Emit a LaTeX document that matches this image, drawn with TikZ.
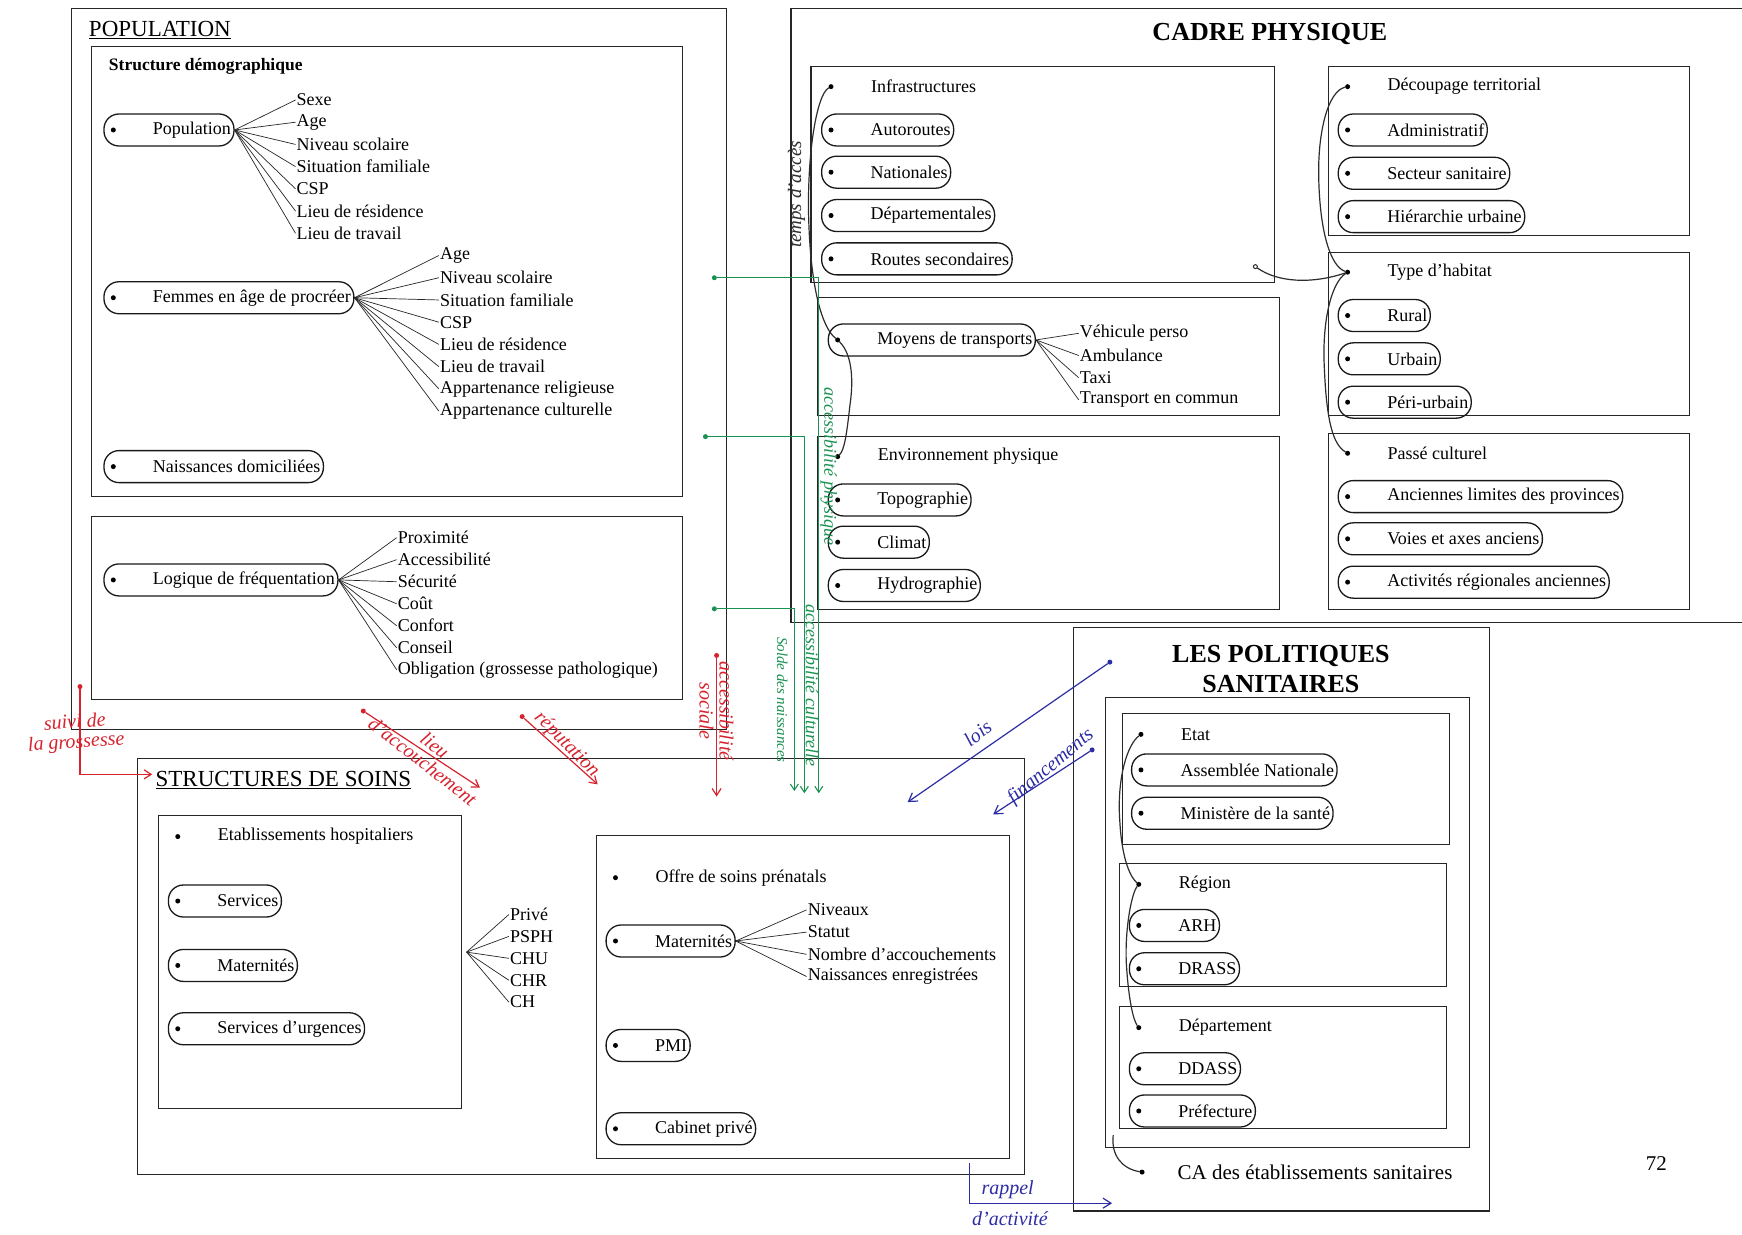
\documentclass[tikz,border=0pt]{standalone}
\usepackage{fontspec}
\setmainfont{Liberation Serif}
\usetikzlibrary{arrows.meta}
\definecolor{hgreen}{RGB}{25,145,80}
\definecolor{hred}{RGB}{215,35,45}
\definecolor{hblue}{RGB}{45,45,165}
\definecolor{hink}{RGB}{45,45,45}
\tikzset{
  box/.style={draw=black!85, line width=1.1pt},
  oval/.style={draw=black!90, line width=1.3pt, rounded corners=15pt, minimum height=32pt,
    inner xsep=3pt, inner ysep=0pt, anchor=west, font=\fontsize{18}{21}\selectfont},
  dotn/.style={circle, fill=black, inner sep=0pt, minimum size=5pt},
  txt/.style={anchor=west, inner sep=1pt, font=\fontsize{18}{21}\selectfont},
  leaf/.style={anchor=west, inner xsep=1pt, inner ysep=0pt, font=\fontsize{18}{21}\selectfont},
  fan/.style={draw=black!85, line width=0.7pt},
  hand/.style={draw=hink, line width=1.2pt, line cap=round},
  ghand/.style={draw=hgreen, line width=1.1pt, -{Straight Barb[length=6pt,width=8pt]}},
  rhand/.style={draw=hred, line width=1.2pt, -{Straight Barb[length=7pt,width=9pt]}},
  bhand/.style={draw=hblue, line width=1.2pt, -{Straight Barb[length=8pt,width=10pt]}},
  gtext/.style={text=hgreen, inner sep=0pt, font=\itshape\fontsize{18}{18}\selectfont},
  rtext/.style={text=hred, inner sep=0pt, font=\itshape\fontsize{20}{20}\selectfont},
  btext/.style={text=hblue, inner sep=0pt, font=\itshape\fontsize{20}{20}\selectfont},
}
\newcommand\ovl[4]{\node[oval] (#1) at ({#2-44},#3) {\hspace{46pt}#4};
  \node[dotn] (#1d) at ({#2-35},#3) {};}
\newcommand\hdr[4]{\node[dotn] (#1d) at ({#2-35},#3) {};
  \node[txt] (#1) at (#2,#3) {#4};}
\begin{document}
\begin{tikzpicture}[x=1.111pt, y=-1.111pt]
\fill[white] (0,0) rectangle (1568,1111);
\useasboundingbox (0,0) rectangle (1568,1111);

% ================= POPULATION =================
\draw[box] (64,8) rectangle (654,657);
\node[anchor=west, inner sep=1pt, font=\fontsize{23}{26}\selectfont] (tpop) at (79,27) {\underline{POPULATION}};
\draw[box] (82,42) rectangle (614,447);
\node[txt, font=\bfseries\fontsize{17.5}{20}\selectfont] (tstruct) at (97,60) {Structure démographique};

\ovl{pop}{137}{117}{Population}
\foreach \t [count=\i] in {Sexe,Age,Niveau scolaire,Situation familiale,CSP,Lieu de résidence,Lieu de travail}
  \node[leaf] (pa\i) at (266,{70+20*\i}) {\t};
\foreach \i in {1,...,7} \draw[fan] (pop.east) -- (pa\i.west);

\ovl{fem}{137}{268}{Femmes en âge de procréer}
\foreach \t [count=\i] in {Age,Niveau scolaire,Situation familiale,CSP,Lieu de résidence,Lieu de travail,Appartenance religieuse,Appartenance culturelle}
  \node[leaf] (fa\i) at (395,{210+20*\i}) {\t};
\foreach \i in {1,...,8} \draw[fan] (fem.east) -- (fa\i.west);

\ovl{nais}{137}{420}{Naissances domiciliées}

\draw[box] (82,465) rectangle (614,630);
\ovl{logi}{137}{522}{Logique de fréquentation}
\foreach \t [count=\i] in {Proximité,Accessibilité,Sécurité,Coût,Confort,Conseil,Obligation (grossesse pathologique)}
  \node[leaf] (la\i) at (357,{464.2+19.8*\i}) {\t};
\foreach \i in {1,...,7} \draw[fan] (logi.east) -- (la\i.west);

% ================= CADRE PHYSIQUE =================
\draw[box] (1568,8) -- (712,8) -- (712,560) -- (1568,560);
\node[font=\bfseries\fontsize{26}{30}\selectfont] (tcad) at (1143,31) {CADRE PHYSIQUE};

\draw[box] (730,60) rectangle (1147,254);
\hdr{infra}{783}{78}{Infrastructures}
\ovl{auto}{783}{117}{Autoroutes}
\ovl{natl}{783}{155}{Nationales}
\ovl{depa}{783}{194}{Départementales}
\ovl{rsec}{783}{233}{Routes secondaires}

\draw[box] (736,268) rectangle (1152,374);
\ovl{moy}{789}{306}{Moyens de transports}
\foreach \t [count=\i] in {Véhicule perso,Ambulance,Taxi,Transport en commun}
  \node[leaf] (ma\i) at (971,{280+20*\i}) {\t};
\foreach \i in {1,...,4} \draw[fan] (moy.east) -- (ma\i.west);

\draw[box] (736,393) rectangle (1152,549);
\hdr{env}{789}{411}{Environnement physique}
\ovl{topo}{789}{450}{Topographie}
\ovl{clim}{789}{488}{Climat}
\ovl{hydro}{789}{527}{Hydrographie}

\draw[box] (1196,60) rectangle (1521,212);
\hdr{decou}{1248}{78}{Découpage territorial}
\ovl{adm}{1248}{117}{Administratif}
\ovl{secs}{1248}{156}{Secteur sanitaire}
\ovl{hier}{1248}{195}{Hiérarchie urbaine}

\draw[box] (1196,227) rectangle (1521,374);
\hdr{hab}{1248}{245}{Type d’habitat}
\ovl{rur}{1248}{284}{Rural}
\ovl{urb}{1248}{323}{Urbain}
\ovl{peri}{1248}{362}{Péri-urbain}

\draw[box] (1196,390) rectangle (1521,549);
\hdr{passe}{1248}{408}{Passé culturel}
\ovl{anc}{1248}{447}{Anciennes limites des provinces}
\ovl{voies}{1248}{485}{Voies et axes anciens}
\ovl{acti}{1248}{524}{Activités régionales anciennes}

% hand-drawn links in cadre physique
\draw[hand] (infrad) .. controls (735,85) and (726,140) .. (728,200) .. controls (730,260) and (740,295) .. (moyd);
\draw[hand] (moyd) .. controls (768,320) and (768,345) .. (765,365) .. controls (762,392) and (760,405) .. (envd);
\draw[hand] (decoud) .. controls (1195,82) and (1186,120) .. (1187,160) .. controls (1188,210) and (1198,240) .. (habd);
\draw[hand] (habd) .. controls (1198,255) and (1190,290) .. (1192,330) .. controls (1194,380) and (1200,400) .. (passed);
\node[circle, draw=hink, line width=1pt, inner sep=0pt, minimum size=4pt] (ic) at (1130,240) {};
\draw[hand] (ic) .. controls (1150,254) and (1180,256) .. (habd);
\node[rotate=90, text=hink, inner sep=0pt, font=\itshape\fontsize{19}{22}\selectfont] (tacc) at (717,175) {temps d’accès};

% ================= STRUCTURES DE SOINS =================
\draw[box] (124,683) rectangle (922,1057);
\node[anchor=west, inner sep=1pt, font=\fontsize{23}{26}\selectfont] (tsoins) at (139,702) {\underline{STRUCTURES DE SOINS}};

\draw[box] (143,734) rectangle (415,998);
\hdr{etab}{195}{753}{Etablissements hospitaliers}
\ovl{serv}{195}{811}{Services}
\ovl{matA}{195}{869}{Maternités}
\ovl{urg}{195}{926}{Services d’urgences}
\coordinate (etabfan) at (420,857);
\foreach \t [count=\i] in {Privé,PSPH,CHU,CHR,CH}
  \node[leaf] (ea\i) at (458,{803.5+19.7*\i}) {\t};
\foreach \i in {1,...,5} \draw[fan] (etabfan) -- (ea\i.west);

\draw[box] (537,752) rectangle (909,1043);
\hdr{offre}{589}{790}{Offre de soins prénatals}
\ovl{matB}{589}{847}{Maternités}
\foreach \t [count=\i] in {Niveaux,Statut,Nombre d’accouchements,Naissances enregistrées}
  \node[leaf] (oa\i) at (726,{799+20*\i}) {\t};
\foreach \i in {1,...,4} \draw[fan] (matB.east) -- (oa\i.west);
\ovl{pmi}{589}{941}{PMI}
\ovl{cab}{589}{1016}{Cabinet privé}

% ================= POLITIQUES SANITAIRES =================
\draw[box] (966,565) rectangle (1341,1090);
\node[align=center, font=\bfseries\fontsize{26}{30}\selectfont] (tpol) at (1153,602) {LES POLITIQUES\\SANITAIRES};
\draw[box] (995,628) rectangle (1323,1033);

\draw[box] (1010,642) rectangle (1305,760);
\hdr{etat}{1062}{661}{Etat}
\ovl{assem}{1062}{693}{Assemblée Nationale}
\ovl{mini}{1062}{732}{Ministère de la santé}

\draw[box] (1008,777) rectangle (1302,888);
\hdr{reg}{1060}{796}{Région}
\ovl{arh}{1060}{833}{ARH}
\ovl{drass}{1060}{872}{DRASS}

\draw[box] (1008,906) rectangle (1302,1016);
\hdr{dept}{1060}{925}{Département}
\ovl{ddass}{1060}{962}{DDASS}
\ovl{pref}{1060}{1000}{Préfecture}

\node[dotn] (cad) at (1028,1055) {};
\node[txt, font=\fontsize{21}{24}\selectfont] (ca) at (1059,1055) {CA des établissements sanitaires};
\coordinate (cas) at (1002,1022);
\draw[hand] (cas) .. controls (1000,1040) and (1010,1052) .. (cad);
\draw[hand] (etatd) .. controls (1015,670) and (1005,700) .. (1008,740) .. controls (1010,775) and (1018,790) .. (regd);
\draw[hand] (regd) .. controls (1018,805) and (1012,840) .. (1014,870) .. controls (1016,900) and (1020,918) .. (deptd);

\node[font=\fontsize{21}{24}\selectfont] (pg) at (1491,1047) {72};

% ================= green annotations =================
\node[dotn, fill=hgreen] (g1) at (643,250) {};
\coordinate (g1c) at (737,250); \coordinate (g1e) at (737,714);
\draw[ghand] (g1) -- (g1c) -- (g1e);
\node[dotn, fill=hgreen] (g2) at (635,393) {};
\coordinate (g2c) at (724,393); \coordinate (g2e) at (724,714);
\draw[ghand] (g2) -- (g2c) -- (g2e);
\node[dotn, fill=hgreen] (g3) at (643,548) {};
\coordinate (g3c) at (715,548); \coordinate (g3e) at (715,712);
\draw[ghand] (g3) -- (g3c) -- (g3e);
\node[gtext, rotate=-90] (lphys) at (746,420) {accessibilité physique};
\node[gtext, rotate=-90] (lcult) at (731,617) {accessibilité culturelle};
\node[gtext, rotate=-90, font=\itshape\fontsize{15}{15}\selectfont] (lsolde) at (704,630) {Solde des naissances};

% ================= red annotations =================
\node[dotn, fill=hred] (r1) at (72,618) {};
\coordinate (r1c) at (72,697); \coordinate (r1e) at (137,697);
\draw[rhand] (r1) -- (r1c) -- (r1e);
\node[rtext, align=center, rotate=4] (lsuivi) at (68,660) {suivi de\\la grossesse};

\node[dotn, fill=hred] (r2) at (327,640) {};
\coordinate (r2e) at (432,709);
\draw[rhand] (r2) -- (r2e);
\node[rtext, align=center, rotate=-38] (llieu) at (386,678) {lieu\\d’accouchement};

\node[dotn, fill=hred] (r3) at (470,645) {};
\coordinate (r3e) at (538,706);
\draw[rhand] (r3) -- (r3e);
\node[rtext, rotate=-45] (lrep) at (510,670) {réputation};

\node[dotn, fill=hred] (r4) at (645,590) {};
\coordinate (r4e) at (645,717);
\draw[rhand] (r4) -- (r4e);
\node[rtext, align=center, rotate=-90] (lsoc) at (645,640) {accessibilité\\sociale};

% ================= blue annotations =================
\node[dotn, fill=hblue] (b1) at (999,596) {};
\coordinate (b1e) at (817,722);
\draw[bhand] (b1) -- (b1e);
\node[btext, rotate=38] (llois) at (880,660) {lois};

\node[dotn, fill=hblue] (b2) at (983,675) {};
\coordinate (b2e) at (894,733);
\draw[bhand] (b2) -- (b2e);
\node[btext, rotate=40] (lfin) at (946,690) {financements};

\coordinate (b3s) at (873,1047); \coordinate (b3c) at (873,1083); \coordinate (b3e) at (1001,1083);
\draw[bhand] (b3s) -- (b3c) -- (b3e);
\node[btext] (lrap) at (907,1071) {rappel};
\node[btext] (lact) at (909,1097) {d’activité};
\end{tikzpicture}
\end{document}
